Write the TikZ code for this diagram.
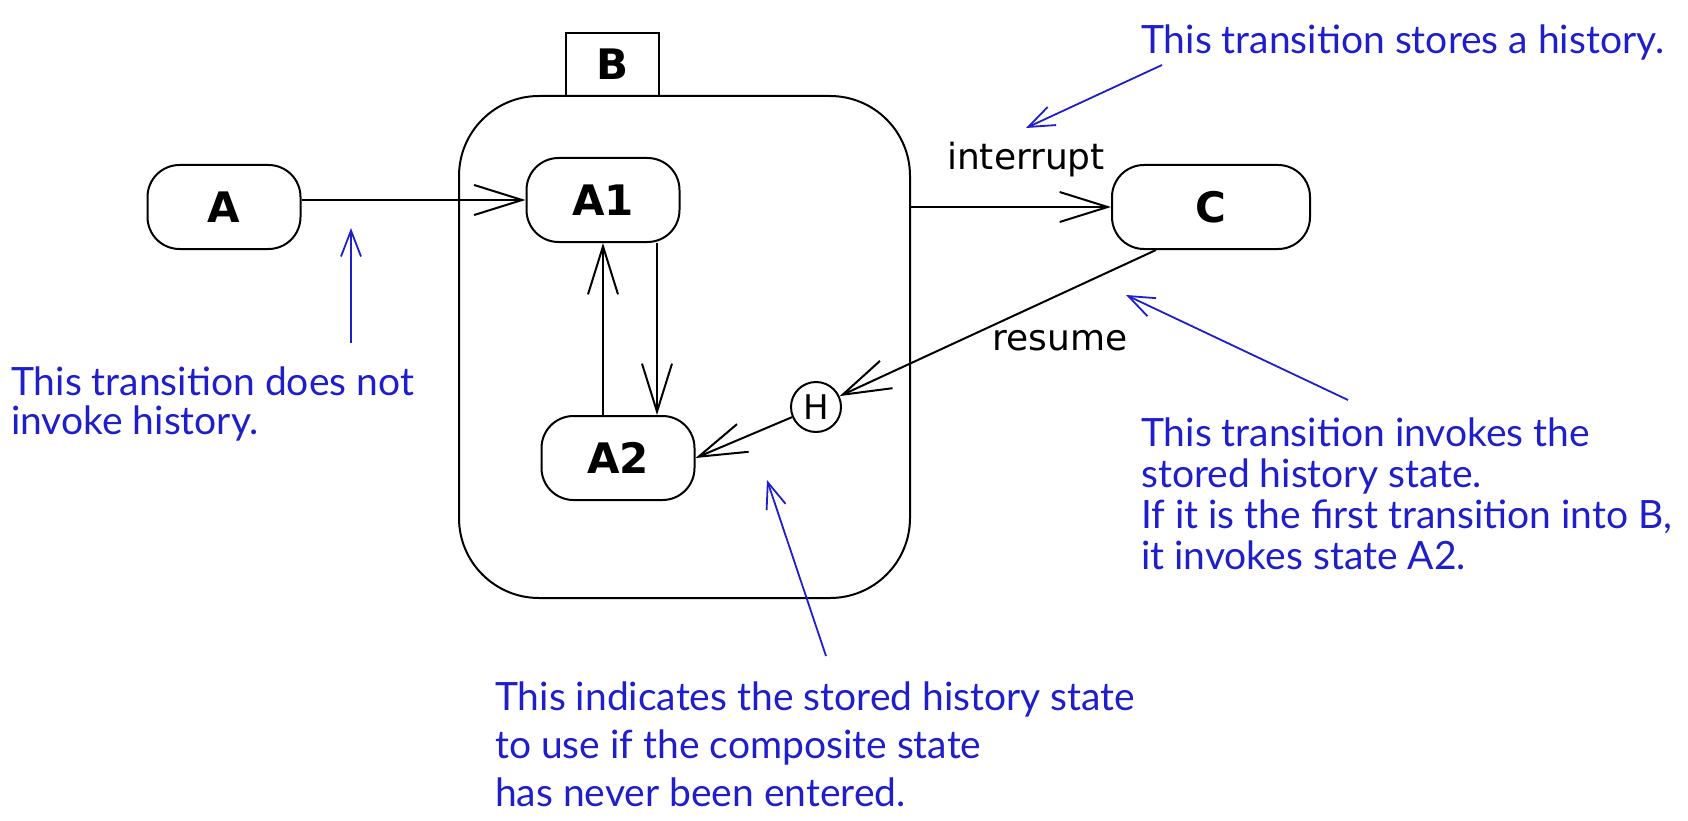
\documentclass[tikz,border=0pt]{standalone}
\usepackage{fontspec}
\setmainfont{DejaVu Sans}
\newfontfamily\notefont{Lato}
\usetikzlibrary{arrows.meta,calc}
\definecolor{noteblue}{RGB}{30,30,205}
\begin{document}
\begin{tikzpicture}[x=1pt,y=-1pt,
  state/.style={draw, line width=2pt, rounded corners=32pt, inner sep=0pt,
    minimum width=153pt, minimum height=84pt, font=\bfseries\fontsize{42}{46}\selectfont},
  trans/.style={line width=2pt, -{Straight Barb[length=48pt,width=30pt]}},
  lbl/.style={inner sep=0pt, font=\fontsize{36}{40}\selectfont},
  note/.style={inner sep=0pt, anchor=base west, text=noteblue,
    font=\notefont\fontsize{39}{44}\selectfont},
  notearrow/.style={draw=noteblue, line width=1.8pt,
    -{Straight Barb[length=26pt,width=20pt]}}]
\useasboundingbox (0,0) rectangle (1688,821);

% composite state B
\node[draw, line width=2pt, rounded corners=80pt, minimum width=451pt,
  minimum height=502pt] (Bst) at (684.5,347) {};
\node[draw, line width=2pt, minimum width=93pt, minimum height=63pt,
  inner sep=0pt, font=\bfseries\fontsize{42}{46}\selectfont] (Blbl) at (612.5,64.5) {B};

% states
\node[state] (A)  at (224,207) {A};
\node[state] (A1) at (603,200) {A1};
\node[state] (A2) at (618,458) {A2};
\node[state, minimum width=198pt] (C) at (1211,207) {C};
\node[draw, circle, line width=2pt, minimum size=50pt, inner sep=0pt,
  font=\fontsize{34}{36}\selectfont] (H) at (816,407) {H};

% transitions
\draw[trans] (A.east |- A1.west) -- (A1.west);
\draw[trans] (A1.south |- A2.north) -- (A1.south);
\draw[trans] ([xshift=54pt]A1.south) -- ([xshift=54pt]A1.south |- A2.north);
\draw[trans] (Bst.east |- C.west) -- (C.west);
\draw[trans] ([xshift=45pt]C.south west) -- (H);
\draw[trans] (H) -- (A2.east);

\node[lbl] (interrupt) at (1026,160) {interrupt};
\node[lbl] (resume) at (1060,341) {resume};

% notes
\node[note] (n1) at (1141,54) {This transition stores a history.};
\node[note] (n2a) at (11,395) {This transition does not};
\node[note] (n2b) at (11,434) {invoke history.};
\node[note] (n3a) at (1141,446) {This transition invokes the};
\node[note] (n3b) at (1141,487) {stored history state.};
\node[note] (n3c) at (1141,528) {If it is the first transition into B,};
\node[note] (n3d) at (1141,569) {it invokes state A2.};
\node[note] (n4a) at (495,710) {This indicates the stored history state};
\node[note] (n4b) at (495,758) {to use if the composite state};
\node[note] (n4c) at (495,806) {has never been entered.};

\coordinate (p1s) at (1162,65);  \coordinate (p1e) at (1026,128);
\coordinate (p2s) at (351,343);  \coordinate (p2e) at (351,228);
\coordinate (p3s) at (1348,400); \coordinate (p3e) at (1126,295);
\coordinate (p4s) at (826,656);  \coordinate (p4e) at (767,480);
\draw[notearrow] (p1s) -- (p1e);
\draw[notearrow] (p2s) -- (p2e);
\draw[notearrow] (p3s) -- (p3e);
\draw[notearrow] (p4s) -- (p4e);
\end{tikzpicture}
\end{document}
